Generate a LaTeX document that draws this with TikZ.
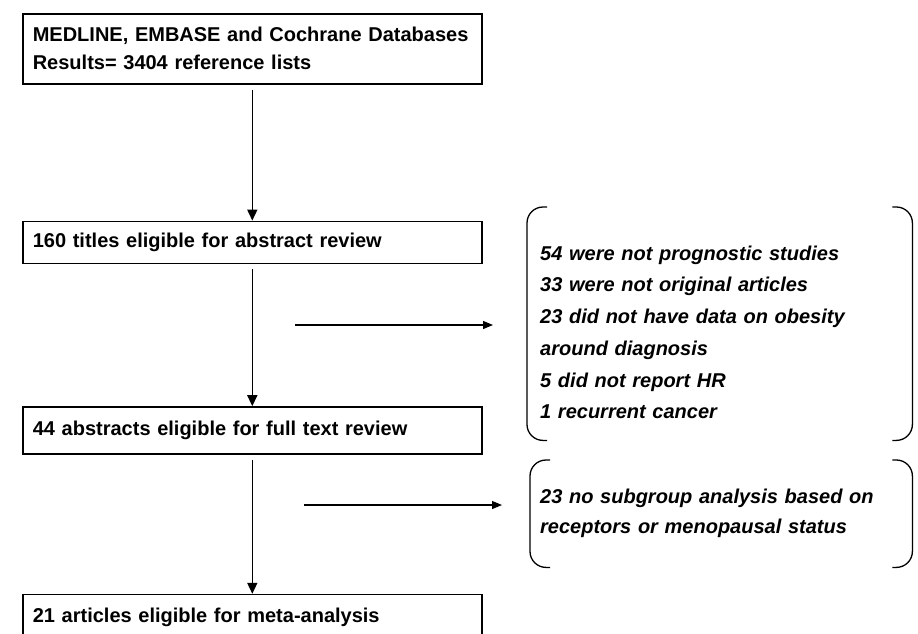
\documentclass[tikz,border=0pt]{standalone}
\usepackage{fontspec}
\setmainfont{Liberation Sans}
\usetikzlibrary{arrows.meta, positioning}

\begin{document}
\begin{tikzpicture}[
  x=1pt, y=-1pt,
  box/.style={draw, line width=1.6pt, align=left,
              font=\bfseries\fontsize{20pt}{28pt}\selectfont,
              inner xsep=10pt, inner ysep=0pt, text width=439pt, minimum height=42pt},
  note/.style={align=left, font=\bfseries\itshape\fontsize{20pt}{31.7pt}\selectfont,
              inner xsep=13pt, inner ysep=0pt, text width=359pt},
  arr/.style={-{Triangle[length=11pt, width=10pt]}, line width=1.5pt, shorten <=5pt},
  harr/.style={-{Triangle[length=10pt, width=8pt]}, line width=1.2pt},
  paren/.style={line width=1.3pt, rounded corners=16pt}]
  \useasboundingbox (0,0) rectangle (918,634);
  \node[box, minimum height=70pt, anchor=north west] (search) at (22,13)
    {MEDLINE, EMBASE and Cochrane Databases\\Results= 3404 reference lists};
  \node[box, below=136pt of search] (titles) {160 titles eligible for abstract review};
  \node[box, below=142pt of titles, minimum height=47pt] (abstr) {44 abstracts eligible for full text review};
  \node[box, below=139pt of abstr, minimum height=46pt] (meta) {21 articles eligible for meta-analysis};
  % exclusion notes
  \node[note, minimum height=233pt, anchor=north west] (ex1) at (527,207)
    {\mbox{}\\54 were not prognostic studies\\33 were not original articles\\23 did not have data on obesity\\around diagnosis\\5 did not report HR\\1 recurrent cancer};
  \node[note, minimum height=107pt, text width=362pt, inner xsep=10pt, anchor=north west,
        font=\bfseries\itshape\fontsize{20pt}{30pt}\selectfont] (ex2) at (530,460)
    {23 no subgroup analysis based on\\receptors or menopausal status};
  \foreach \n in {ex1, ex2} {
    \draw[paren] ([xshift=20pt]\n.north west) -- (\n.north west) -- (\n.south west) -- ([xshift=20pt]\n.south west);
    \draw[paren] ([xshift=-20pt]\n.north east) -- (\n.north east) -- (\n.south east) -- ([xshift=-20pt]\n.south east);
  }
  \draw[arr] (search) -- (titles);
  \draw[arr] (titles) -- (abstr);
  \draw[arr] (abstr) -- (meta);
  \coordinate (r1) at (295,325);
  \coordinate (r2) at (304,505);
  \draw[harr, shorten >=34pt] (r1) -- (r1 -| ex1.west);
  \draw[harr, shorten >=28pt] (r2) -- (r2 -| ex2.west);
\end{tikzpicture}
\end{document}
